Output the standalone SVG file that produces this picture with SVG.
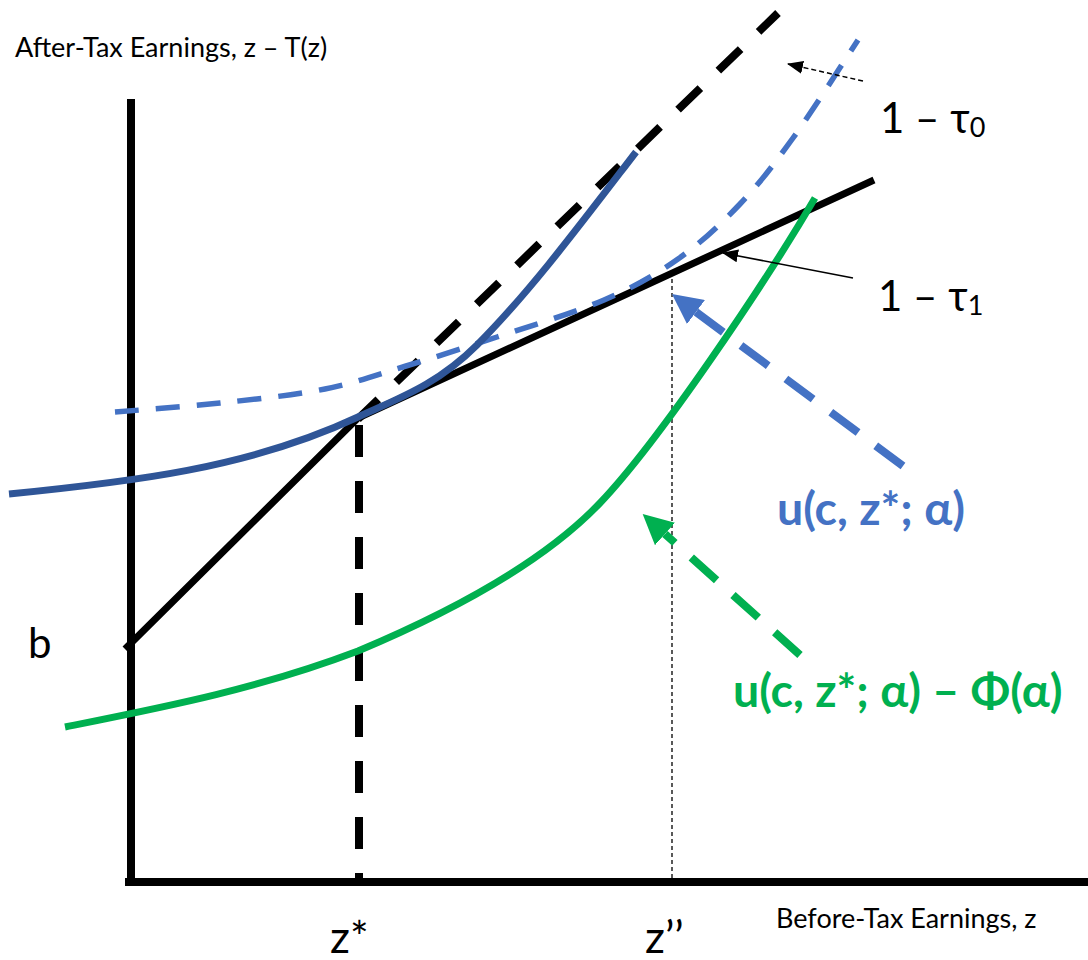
<svg xmlns="http://www.w3.org/2000/svg" width="1088" height="960" viewBox="0 0 1088 960">
<style>
.t{font-family:Lato,"Noto Sans","DejaVu Sans",sans-serif;fill:#000}
.b{font-weight:bold}
.k{fill:none;stroke:#000}
</style>
<defs>
<marker id="hb" markerUnits="userSpaceOnUse" markerWidth="30" markerHeight="30" refX="0" refY="13" orient="auto" viewBox="0 0 26 26"><path d="M0,0 L26,13 L0,26 z" fill="#4472C4"/></marker>
<marker id="hg" markerUnits="userSpaceOnUse" markerWidth="30" markerHeight="30" refX="0" refY="13" orient="auto" viewBox="0 0 26 26"><path d="M0,0 L26,13 L0,26 z" fill="#00B050"/></marker>
<marker id="hk" markerUnits="userSpaceOnUse" markerWidth="16" markerHeight="14" refX="15" refY="6.5" orient="auto" viewBox="0 0 16 13"><path d="M0,0 L16,6.5 L0,13 z" fill="#000"/></marker>
</defs>
<rect width="1088" height="960" fill="#fff"/>
<g id="axes">
<path class="k" d="M131,99 V886" stroke-width="8"/>
<path class="k" d="M125,882 H1088" stroke-width="8"/>
</g>
<g id="budget-line">
<path class="k" d="M778,13 L358,419" stroke-width="8" stroke-dasharray="31 25" stroke-dashoffset="4"/>
<path class="k" d="M359,425 V880" stroke-width="8" stroke-dasharray="32 24"/>
<path class="k" d="M672,272 V882" stroke-width="1.3" stroke-dasharray="4 3" stroke="#333"/>
<path class="k" d="M125,649 L358,418 L874,180" stroke-width="7"/>
</g>
<g id="curve-u-zpp">
<path d="M115,412 C132.5,410.5 185,406.8 220,403 C255,399.2 294,395.2 325,389 C356,382.8 377.3,374.7 406,366 C434.7,357.3 464,348 497,337 C530,326 573.8,313 604,300 C634.2,287 655.3,275 678,259 C700.7,243 720.8,224.2 740,204 C759.2,183.8 773.3,165.3 793,138 C812.7,110.7 847.2,56.3 858,40" fill="none" stroke="#4472C4" stroke-width="5.5" stroke-dasharray="24 17"/>
</g>
<g id="curve-u-zstar">
<path d="M9,494 C129,482 248,468.6 358,417 C398,398.6 437,385 477,345 C530,292 583,221 636,152" fill="none" stroke="#2F5597" stroke-width="7"/>
</g>
<g id="curve-u-phi">
<path d="M65,727 C165,707 258,689 358,651 C438,617.4 540,566 600,503 C660,440 765,283 815,198" fill="none" stroke="#00B050" stroke-width="7"/>
</g>
<g id="connectors">
<path d="M903,466 L696,312" fill="none" stroke="#4472C4" stroke-width="8" stroke-dasharray="34 22" marker-end="url(#hb)"/>
<path d="M800,655 L665,534" fill="none" stroke="#00B050" stroke-width="8" stroke-dasharray="34 22" marker-end="url(#hg)"/>
<path d="M853,278 L723,253" fill="none" stroke="#000" stroke-width="1.5" marker-end="url(#hk)"/>
<path d="M863,81 L788,64" fill="none" stroke="#000" stroke-width="1.5" stroke-dasharray="5 3" marker-end="url(#hk)"/>
</g>
<g id="labels">
<text class="t" x="15" y="57" font-size="27">After-Tax Earnings, z – T(z)</text>
<text class="t" x="880" y="133" font-size="42">1 – τ<tspan font-size="27" dy="4">0</tspan></text>
<text class="t" x="878" y="311" font-size="42">1 – τ<tspan font-size="27" dy="4">1</tspan></text>
<text class="t b" x="777" y="525" font-size="46.5" style="fill:#4472C4">u(c, z*; α)</text>
<text class="t b" x="733" y="707" font-size="46.5" style="fill:#00B050">u(c, z*; α) – Φ(α)</text>
<text class="t" x="28" y="658" font-size="42">b</text>
<text class="t" x="330" y="953" font-size="44">z*</text>
<text class="t" x="645" y="953" font-size="44">z’’</text>
<text class="t" x="776" y="928" font-size="27">Before-Tax Earnings, z</text>
</g>
</svg>
